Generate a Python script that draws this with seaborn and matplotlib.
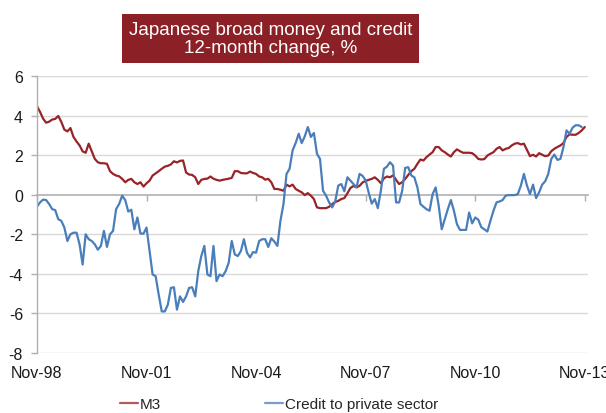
import numpy as np
import pandas as pd
import matplotlib
matplotlib.use("Agg")
import matplotlib.pyplot as plt
import seaborn as sns

# Monthly data, Nov-98 .. Nov-13 (month index 0..180)
m3 = [4.47, 4.19, 3.85, 3.64, 3.69, 3.80, 3.83, 3.98, 3.68, 3.29,
      3.20, 3.37, 2.92, 2.69, 2.49, 2.19, 2.12, 2.58, 2.20, 1.81,
      1.64, 1.59, 1.59, 1.56, 1.19, 1.05, 0.97, 0.93, 0.80, 0.63,
      0.75, 0.80, 0.63, 0.54, 0.63, 0.41, 0.58, 0.71, 0.97, 1.08,
      1.19, 1.31, 1.42, 1.46, 1.53, 1.69, 1.63, 1.71, 1.73, 1.12,
      1.02, 1.00, 0.88, 0.54, 0.75, 0.80, 0.81, 0.92, 0.81, 0.75,
      0.71, 0.75, 0.78, 0.81, 0.85, 1.19, 1.19, 1.10, 1.08, 1.08,
      1.17, 1.10, 1.05, 0.92, 0.88, 0.76, 0.80, 0.63, 0.29, 0.29,
      0.25, 0.20, 0.51, 0.42, 0.51, 0.29, 0.20, 0.12, -0.02, 0.08,
      -0.05, -0.22, -0.64, -0.68, -0.68, -0.68, -0.61, -0.47, -0.37, -0.31,
      -0.22, -0.17, 0.07, 0.34, 0.44, 0.37, 0.45, 0.62, 0.70, 0.75,
      0.80, 0.88, 0.75, 0.58, 0.83, 0.92, 0.88, 0.98, 0.75, 0.54,
      0.63, 0.80, 1.00, 1.19, 1.31, 1.56, 1.78, 1.73, 1.90, 2.03,
      2.15, 2.41, 2.41, 2.24, 2.15, 2.03, 1.93, 2.15, 2.29, 2.20,
      2.12, 2.12, 2.12, 2.10, 1.98, 1.81, 1.78, 1.80, 1.98, 2.07,
      2.15, 2.32, 2.41, 2.24, 2.32, 2.36, 2.49, 2.58, 2.61, 2.54,
      2.58, 2.27, 1.95, 2.02, 1.93, 2.10, 2.02, 1.95, 1.98, 2.20,
      2.32, 2.41, 2.49, 2.61, 2.92, 3.05, 3.03, 3.03, 3.12, 3.25,
      3.42]

credit = [-0.61, -0.39, -0.25, -0.27, -0.47, -0.73, -0.78, -1.24, -1.32, -1.66,
          -2.34, -2.00, -1.92, -1.92, -2.51, -3.53, -2.00, -2.25, -2.34, -2.51,
          -2.78, -2.59, -1.83, -2.64, -2.00, -1.83, -0.73, -0.47, -0.05, -0.27,
          -0.85, -0.76, -1.75, -1.15, -1.96, -1.97, -1.66, -2.85, -4.03, -4.12,
          -5.05, -5.90, -5.90, -5.56, -4.71, -4.68, -5.81, -5.14, -5.42, -5.14,
          -4.71, -4.68, -5.14, -3.86, -3.10, -2.59, -4.03, -4.12, -2.59, -4.37,
          -4.03, -4.12, -3.86, -3.44, -2.34, -3.02, -3.10, -2.85, -2.25, -2.93,
          -3.17, -2.90, -2.93, -2.34, -2.25, -2.25, -2.64, -2.20, -2.37, -2.59,
          -1.32, -0.47, 1.05, 1.31, 2.24, 2.61, 3.08, 2.61, 2.95, 3.42,
          2.92, 3.12, 2.07, 1.81, 0.20, -0.05, -0.39, -0.64, -0.34, 0.46,
          0.54, 0.17, 0.88, 0.71, 0.54, 0.37, 1.05, 0.95, 0.72, 0.10,
          -0.45, -0.22, -0.68, 0.20, 1.31, 1.42, 1.64, 1.47, -0.39, -0.39,
          0.20, 1.36, 1.39, 0.97, 0.88, 0.37, -0.47, -0.61, -0.73, -0.81,
          0.03, 0.37, -0.56, -1.75, -1.24, -0.73, -0.27, -0.81, -1.49, -1.78,
          -1.78, -1.78, -0.90, -1.45, -1.15, -1.26, -1.64, -1.75, -1.86, -1.32,
          -0.81, -0.39, -0.34, -0.27, -0.05, -0.02, -0.02, -0.02, 0.03, 0.46,
          1.05, 0.46, 0.03, 0.51, -0.17, 0.12, 0.51, 0.68, 1.05, 1.81,
          2.03, 1.76, 1.81, 2.41, 3.25, 3.08, 3.39, 3.51, 3.51, 3.42,
          np.nan]

x_ticks = [0, 36, 72, 108, 144, 180]
x_labels = ["Nov-98", "Nov-01", "Nov-04", "Nov-07", "Nov-10", "Nov-13"]
y_ticks = [-8, -6, -4, -2, 0, 2, 4, 6]
series_names = ["M3", "Credit to private sector"]
colors = ["#992428", "#4a7ebb"]

months = np.arange(len(m3))
df = pd.concat([
    pd.DataFrame({"month": months, "value": m3, "series": series_names[0]}),
    pd.DataFrame({"month": months, "value": credit, "series": series_names[1]}),
], ignore_index=True)

sns.set_theme(style="white")
plt.rcParams["font.family"] = ["Liberation Sans", "DejaVu Sans"]

fig = plt.figure(figsize=(6.06, 4.14), dpi=100)
ax = fig.add_axes([0.061, 0.145, 0.909, 0.669])

sns.lineplot(data=df, x="month", y="value", hue="series",
             palette=dict(zip(series_names, colors)), linewidth=1.6,
             ax=ax, legend=False)

ax.set_xlim(0, 181)
ax.set_ylim(-8, 6)
ax.set_yticks(y_ticks)
ax.set_yticklabels([str(v) for v in y_ticks])
for y in y_ticks:
    if y != 0:
        ax.axhline(y, color="#d9d9d9", lw=1.0, zorder=0)

ax.set_xlabel("")
ax.set_ylabel("")
for s in ["top", "right"]:
    ax.spines[s].set_visible(False)
ax.spines["left"].set_color("#b0b0b0")
ax.spines["left"].set_linewidth(1.0)
ax.spines["bottom"].set_position(("data", 0))
ax.spines["bottom"].set_color("#b0b0b0")
ax.spines["bottom"].set_linewidth(1.2)
ax.spines["bottom"].set_zorder(1)

ax.set_xticks(x_ticks)
ax.tick_params(axis="x", direction="out", length=4, width=1, color="#b0b0b0",
               labelbottom=False, bottom=True)
ax.tick_params(axis="y", direction="out", length=4, width=1, color="#b0b0b0",
               labelsize=11.5, pad=6, left=True, labelcolor="#1a1a1a")

sec = ax.secondary_xaxis(-0.0)
sec.set_xticks(x_ticks)
sec.set_xticklabels(x_labels)
sec.tick_params(axis="x", length=0, labelsize=11.5, pad=8.5, labelcolor="#1a1a1a")
sec.spines["bottom"].set_visible(False)

fig.text(0.446, 0.905, "Japanese broad money and credit\n12-month change, %",
         ha="center", va="center", color="white", fontsize=13.5,
         linespacing=1.1,
         bbox=dict(boxstyle="square,pad=0.35", fc="#8b2126", ec="none"))

handles = [plt.Line2D([], [], color=c, lw=1.6, alpha=0.75) for c in colors]
fig.legend(handles, series_names, loc="center", bbox_to_anchor=(0.46, 0.022),
           ncol=2, frameon=False, fontsize=11, handlelength=1.2,
           handletextpad=0.1, columnspacing=6.8)

fig.savefig("out.png", dpi=100)
